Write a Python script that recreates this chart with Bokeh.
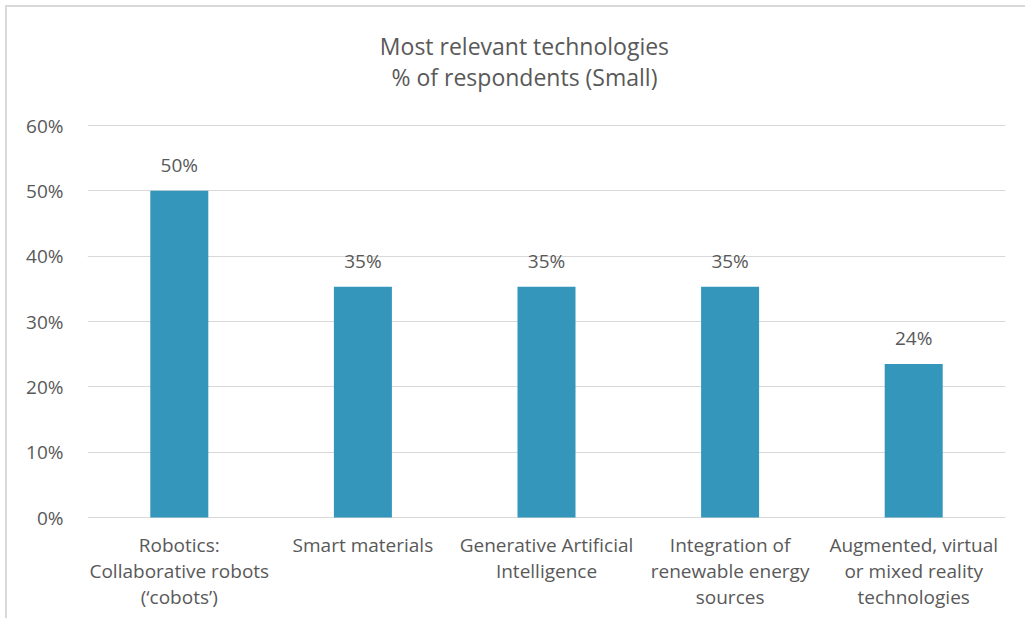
from bokeh.plotting import figure
from bokeh.models import ColumnDataSource, NumeralTickFormatter, FixedTicker, Range1d
from bokeh.core.properties import value
from bokeh.embed import file_html
from bokeh.resources import INLINE

categories = [
    "Robotics:\nCollaborative robots\n(\u2018cobots\u2019)",
    "Smart materials",
    "Generative Artificial\nIntelligence",
    "Integration of\nrenewable energy\nsources",
    "Augmented, virtual\nor mixed reality\ntechnologies",
]
values = [0.50, 0.353, 0.353, 0.353, 0.235]
labels = ["50%", "35%", "35%", "35%", "24%"]
y_ticks = [0, 0.1, 0.2, 0.3, 0.4, 0.5, 0.6]
title_lines = ["Most relevant technologies", "% of respondents (Small)"]

FONT = "Open Sans"
TXT = "#595959"
GRID = "#d9d9d9"
PX = 0.6 / 392  # data units per pixel on the y axis
Y_TOP = 0.6 + 118 * PX
Y_BOTTOM = -101 * PX

src = ColumnDataSource(dict(cat=categories, val=values, lab=labels))

p = figure(x_range=categories, y_range=Range1d(Y_BOTTOM, Y_TOP),
           frame_width=918, frame_height=611,
           output_backend="svg", toolbar_location=None,
           min_border_left=80, min_border_right=20, min_border_top=0, min_border_bottom=0,
           styles={"border-top": "2px solid #d9d9d9", "border-left": "2px solid #d9d9d9",
                   "margin-top": "5px", "margin-left": "5px"})
p.outline_line_color = None
p.border_fill_color = "white"
p.xaxis.visible = False

p.vbar(x="cat", top="val", width=0.316, source=src, color="#3596BC", line_color=None)
p.text(x="cat", y="val", text="lab", source=src, text_align="center", text_baseline="bottom",
       y_offset=-13, text_font=value(FONT), text_font_size="19px", text_color=TXT)

p.yaxis.ticker = FixedTicker(ticks=y_ticks)
p.yaxis.formatter = NumeralTickFormatter(format="0%")
p.yaxis.axis_line_color = None
p.yaxis.major_tick_line_color = None
p.yaxis.minor_tick_line_color = None
p.yaxis.major_label_standoff = 18
p.yaxis.major_label_text_font = FONT
p.yaxis.major_label_text_font_size = "19px"
p.yaxis.major_label_text_color = TXT

# category labels under the bars
p.text(x="cat", y=-14 * PX, text="cat", source=src, text_align="center", text_baseline="top",
       text_font=value(FONT), text_font_size="19px", text_color=TXT, text_line_height=1.0)

p.xgrid.grid_line_color = None
p.ygrid.grid_line_color = GRID
p.ygrid.grid_line_width = 1

# two-line title
p.text(x=[2.38, 2.38], y=[0.6 + 80 * PX, 0.6 + 49 * PX], text=title_lines,
       text_align="center", text_baseline="middle", text_font=value(FONT),
       text_font_size="23px", text_color=TXT)

html = file_html(p, INLINE)
open("out.html", "w").write(html)
